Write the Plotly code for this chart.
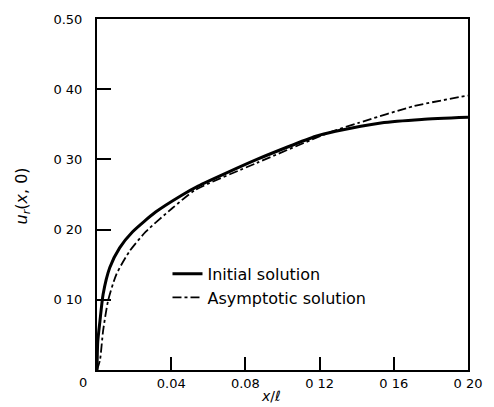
import plotly.graph_objects as go

# Displacement u_r(x, 0) along the crack face
x_initial = [0.0, 0.0004, 0.0016, 0.0033, 0.0069, 0.0122, 0.0192, 0.0316, 0.0457,
             0.0545, 0.0862, 0.118, 0.1286, 0.153, 0.175, 0.20]
y_initial = [0.0, 0.040, 0.070, 0.108, 0.146, 0.174, 0.197, 0.225, 0.249,
             0.262, 0.300, 0.333, 0.340, 0.352, 0.357, 0.360]

x_asymptotic = [0.0, 0.0016, 0.0033, 0.006, 0.0104, 0.0175, 0.0263, 0.0404, 0.0527,
                0.0862, 0.125, 0.141, 0.171, 0.20]
y_asymptotic = [0.0, 0.014, 0.056, 0.099, 0.136, 0.169, 0.197, 0.230, 0.256,
                0.295, 0.338, 0.352, 0.376, 0.391]

x_tickvals = [0.04, 0.08, 0.12, 0.16, 0.20]
x_ticktext = ["0.04", "0.08", "0 12", "0 16", "0 20"]
y_tickvals = [0.10, 0.20, 0.30, 0.40, 0.50]
y_ticktext = ["0 10", "0 20", "0 30", "0 40", "0.50"]

FONT = "DejaVu Sans"

fig = go.Figure()
fig.add_trace(go.Scatter(
    x=x_initial, y=y_initial, mode="lines", name="Initial solution",
    line=dict(color="black", width=3, shape="spline", smoothing=0.6),
))
fig.add_trace(go.Scatter(
    x=x_asymptotic, y=y_asymptotic, mode="lines", name="Asymptotic solution",
    line=dict(color="black", width=1.8, dash="dashdot", shape="spline", smoothing=0.6),
))

fig.update_layout(
    width=494, height=407,
    margin=dict(l=97, r=19, t=15, b=37),
    paper_bgcolor="white", plot_bgcolor="white",
    font=dict(family=FONT, size=13, color="black"),
    showlegend=True,
    legend=dict(
        x=0.19, y=0.24, xanchor="left", yanchor="middle",
        bgcolor="rgba(0,0,0,0)", font=dict(family=FONT, size=16, color="black"),
        itemwidth=30, tracegroupgap=0,
    ),
    xaxis=dict(
        range=[0, 0.20], showgrid=False, zeroline=False,
        showline=True, linecolor="black", linewidth=2, mirror=True,
        ticks="inside", ticklen=13, tickwidth=1.5, tickcolor="black",
        tickvals=x_tickvals, ticktext=x_ticktext,
        tickfont=dict(family=FONT, size=13),
    ),
    yaxis=dict(
        range=[0, 0.50], showgrid=False, zeroline=False,
        showline=True, linecolor="black", linewidth=2, mirror=True,
        ticks="inside", ticklen=14, tickwidth=1.5, tickcolor="black",
        tickvals=y_tickvals, ticktext=y_ticktext,
        tickfont=dict(family=FONT, size=13), ticklabelstandoff=10,
    ),
)

# Origin label, axis titles
fig.add_annotation(x=0, y=0, xref="x", yref="y", text="0", showarrow=False,
                   xanchor="center", yanchor="middle", xshift=-14, yshift=-12,
                   font=dict(family=FONT, size=13))
fig.add_annotation(x=0.5, y=0, xref="paper", yref="paper", text="<i>x</i>/<i>ℓ</i>",
                   showarrow=False, xanchor="center", yanchor="top", xshift=-12, yshift=-16,
                   font=dict(family=FONT, size=14))
fig.add_annotation(x=0, y=0.5, xref="paper", yref="paper",
                   text="<i>u</i><sub><i>r</i></sub>(<i>x</i>, 0)",
                   showarrow=False, textangle=-90, xanchor="center", yanchor="middle",
                   xshift=-75, yshift=-2, font=dict(family=FONT, size=16))

fig.write_html("out.html")
